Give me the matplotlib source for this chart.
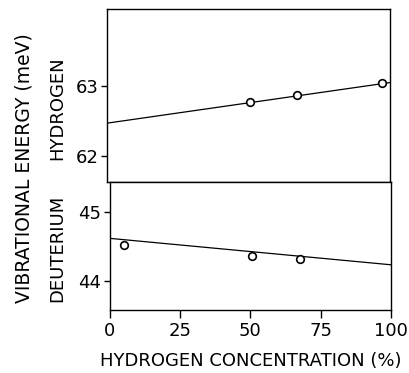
import numpy as np
import matplotlib.pyplot as plt

# hydrogen concentration (%) and vibrational energies (meV)
h_conc = [50.5, 67.0, 97.3]
h_energy = [62.77, 62.87, 63.04]
h_fit = [62.47, 63.05]   # line at 0 and 100 %

d_conc = [5.0, 50.5, 67.5]
d_energy = [44.53, 44.36, 44.33]
d_fit = [44.62, 44.24]

fit_x = [0, 100]

plt.rcParams['font.family'] = 'DejaVu Sans'
fig = plt.figure(figsize=(4.09, 3.73), dpi=100)
W, H = 409, 373
ax1 = fig.add_axes([107/W, 1-182/H, (390-107)/W, (182-9)/H])
ax2 = fig.add_axes([109.7/W, 1-310/H, (391-109.7)/W, (310-182)/H])

for ax in (ax1, ax2):
    for s in ax.spines.values():
        s.set_linewidth(1.0)
    ax.tick_params(direction='out', length=4, width=1, labelsize=13, pad=2)
    ax.set_xlim(0, 100)

ax1.plot(fit_x, h_fit, color='black', lw=0.9)
ax1.plot(h_conc, h_energy, 'o', mfc='white', mec='black', ms=5.5, mew=1.2)
ax1.set_ylim(61.63, 64.1)
ax1.set_yticks([62, 63])
ax1.set_xticks([])

ax2.plot(fit_x, d_fit, color='black', lw=0.9)
ax2.plot(d_conc, d_energy, 'o', mfc='white', mec='black', ms=5.5, mew=1.2)
ax2.set_ylim(43.59, 45.43)
ax2.set_yticks([44, 45])
ax2.set_xticks([0, 25, 50, 75, 100])
ax2.tick_params(axis='x', length=6, pad=3)
ax2.set_xlabel('HYDROGEN CONCENTRATION (%)', fontsize=13, labelpad=8)

fig.text(57/W, 1-108/H, 'HYDROGEN', rotation=90, fontsize=13,
         ha='center', va='center')
fig.text(57/W, 1-248/H, 'DEUTERIUM', rotation=90, fontsize=13,
         ha='center', va='center')
fig.text(24/W, 1-168/H, 'VIBRATIONAL ENERGY (meV)', rotation=90, fontsize=13.5,
         ha='center', va='center')

fig.savefig('out.png', dpi=100)
